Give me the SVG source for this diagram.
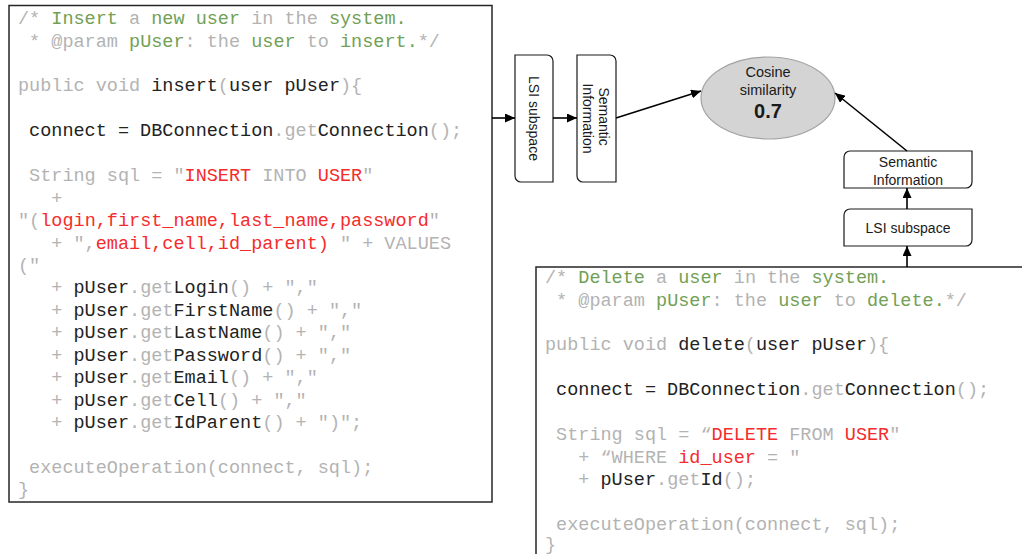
<svg xmlns="http://www.w3.org/2000/svg" width="1022" height="554" viewBox="0 0 1022 554">
  <style>
    .code { font-family: "Liberation Mono", "Courier New", monospace; font-size: 18.5px; white-space: pre; fill: #b3b3b3; }
    .g { fill: #b3b3b3; }
    .gr { fill: #72a055; }
    .r { fill: #f52c2c; }
    .k { fill: #222222; }
    .frame { fill: #ffffff; stroke: #262626; stroke-width: 1.5; }
    .box { fill: #ffffff; stroke: #1a1a1a; stroke-width: 1.2; }
    .lbl { font-family: "Liberation Sans", Arial, sans-serif; font-size: 14px; fill: #1a1a1a; text-anchor: middle; }
    .conn { stroke: #000000; stroke-width: 1.6; fill: none; marker-end: url(#arrow); }
  </style>
  <defs>
    <marker id="arrow" markerUnits="userSpaceOnUse" markerWidth="11" markerHeight="9" refX="10" refY="4.5" orient="auto">
      <path d="M0,0 L10,4.5 L0,9 Z" fill="#000000"/>
    </marker>
  </defs>

  <!-- insert() source listing -->
  <g id="code-insert">
    <rect class="frame" x="9" y="5.5" width="483" height="496.5"/>
    <text class="code" xml:space="preserve" x="18" y="24">/* <tspan class="gr">Insert</tspan> a <tspan class="gr">new user</tspan> in the <tspan class="gr">system.</tspan></text>
    <text class="code" xml:space="preserve" x="18" y="46.5"> * @param <tspan class="gr">pUser</tspan>: the <tspan class="gr">user</tspan> to <tspan class="gr">insert.</tspan>*/</text>
    <text class="code" xml:space="preserve" x="18" y="91.3">public void <tspan class="k">insert</tspan>(<tspan class="k">user pUser</tspan>){</text>
    <text class="code" xml:space="preserve" x="18" y="136.2"><tspan class="k"> connect = DBConnection</tspan>.get<tspan class="k">Connection</tspan>();</text>
    <text class="code" xml:space="preserve" x="18" y="181.2"> String sql = "<tspan class="r">INSERT</tspan> INTO <tspan class="r">USER</tspan>"</text>
    <text class="code" xml:space="preserve" x="18" y="203.6">   +</text>
    <text class="code" xml:space="preserve" x="18" y="226">"(<tspan class="r">login,first_name,last_name,password</tspan>"</text>
    <text class="code" xml:space="preserve" x="18" y="248.5">   + ",<tspan class="r">email,cell,id_parent)</tspan> " + VALUES</text>
    <text class="code" xml:space="preserve" x="18" y="271">("</text>
    <text class="code" xml:space="preserve" x="18" y="293.4">   + <tspan class="k">pUser</tspan>.get<tspan class="k">Login</tspan>() + ","</text>
    <text class="code" xml:space="preserve" x="18" y="315.8">   + <tspan class="k">pUser</tspan>.get<tspan class="k">FirstName</tspan>() + ","</text>
    <text class="code" xml:space="preserve" x="18" y="338.3">   + <tspan class="k">pUser</tspan>.get<tspan class="k">LastName</tspan>() + ","</text>
    <text class="code" xml:space="preserve" x="18" y="360.7">   + <tspan class="k">pUser</tspan>.get<tspan class="k">Password</tspan>() + ","</text>
    <text class="code" xml:space="preserve" x="18" y="383.2">   + <tspan class="k">pUser</tspan>.get<tspan class="k">Email</tspan>() + ","</text>
    <text class="code" xml:space="preserve" x="18" y="405.6">   + <tspan class="k">pUser</tspan>.get<tspan class="k">Cell</tspan>() + ","</text>
    <text class="code" xml:space="preserve" x="18" y="428">   + <tspan class="k">pUser</tspan>.get<tspan class="k">IdParent</tspan>() + ")";</text>
    <text class="code" xml:space="preserve" x="18" y="472.8"> executeOperation(connect, sql);</text>
    <text class="code" xml:space="preserve" x="18" y="495">}</text>
  </g>

  <!-- delete() source listing -->
  <g id="code-delete">
    <rect class="frame" x="536" y="267" width="500" height="300"/>
    <text class="code" xml:space="preserve" x="545" y="283">/* <tspan class="gr">Delete</tspan> a <tspan class="gr">user</tspan> in the <tspan class="gr">system.</tspan></text>
    <text class="code" xml:space="preserve" x="545" y="305.5"> * @param <tspan class="gr">pUser</tspan>: the <tspan class="gr">user</tspan> to <tspan class="gr">delete.</tspan>*/</text>
    <text class="code" xml:space="preserve" x="545" y="350.3">public void <tspan class="k">delete</tspan>(<tspan class="k">user pUser</tspan>){</text>
    <text class="code" xml:space="preserve" x="545" y="395.3"><tspan class="k"> connect = DBConnection</tspan>.get<tspan class="k">Connection</tspan>();</text>
    <text class="code" xml:space="preserve" x="545" y="440.2"> String sql = “<tspan class="r">DELETE</tspan> FROM <tspan class="r">USER</tspan>"</text>
    <text class="code" xml:space="preserve" x="545" y="462.6">   + “WHERE <tspan class="r">id_user</tspan> = "</text>
    <text class="code" xml:space="preserve" x="545" y="485">   + <tspan class="k">pUser</tspan>.get<tspan class="k">Id</tspan>();</text>
    <text class="code" xml:space="preserve" x="545" y="530"> executeOperation(connect, sql);</text>
    <text class="code" xml:space="preserve" x="545" y="549.5">}</text>
  </g>

  <!-- vertical LSI subspace box -->
  <g id="lsi-left">
    <path class="box" d="M515,55 H547 A6,6 0 0 1 553,61 V182 H521 A6,6 0 0 1 515,176 Z"/>
    <text class="lbl" transform="translate(534,118.5) rotate(90)" y="5">LSI subspace</text>
  </g>

  <!-- vertical Semantic Information box -->
  <g id="semantic-left">
    <path class="box" d="M577,55 H610 A6,6 0 0 1 616,61 V182 H583 A6,6 0 0 1 577,176 Z"/>
    <text class="lbl" transform="translate(596.5,118.5) rotate(90)">
      <tspan x="0" y="-2.5">Semantic</tspan>
      <tspan x="0" y="13.5">Information</tspan>
    </text>
  </g>

  <!-- cosine similarity result -->
  <g id="cosine">
    <ellipse cx="768" cy="98" rx="67" ry="41" fill="#d4d4d4" stroke="#a3a3a3" stroke-width="1.2"/>
    <text class="lbl" x="768" y="77" style="font-size:14.5px">Cosine</text>
    <text class="lbl" x="768" y="94.5" style="font-size:14.5px">similarity</text>
    <text class="lbl" x="768" y="118" style="font-weight:bold;font-size:20px">0.7</text>
  </g>

  <!-- horizontal Semantic Information box -->
  <g id="semantic-right">
    <path class="box" d="M850,151 H972 V182 A6,6 0 0 1 966,188 H844 V157 A6,6 0 0 1 850,151 Z"/>
    <text class="lbl" x="908" y="167">Semantic</text>
    <text class="lbl" x="908" y="185">Information</text>
  </g>

  <!-- horizontal LSI subspace box -->
  <g id="lsi-right">
    <path class="box" d="M850,209 H972 V240 A6,6 0 0 1 966,246 H844 V215 A6,6 0 0 1 850,209 Z"/>
    <text class="lbl" x="908" y="233">LSI subspace</text>
  </g>

  <!-- connectors -->
  <g id="connectors">
    <line class="conn" x1="492" y1="118" x2="515" y2="118"/>
    <line class="conn" x1="553" y1="118" x2="577" y2="118"/>
    <line class="conn" x1="616" y1="118" x2="701" y2="91"/>
    <line class="conn" x1="907" y1="151" x2="835" y2="93"/>
    <line class="conn" x1="907" y1="209" x2="907" y2="188"/>
    <line class="conn" x1="907" y1="267" x2="907" y2="246"/>
  </g>
</svg>
